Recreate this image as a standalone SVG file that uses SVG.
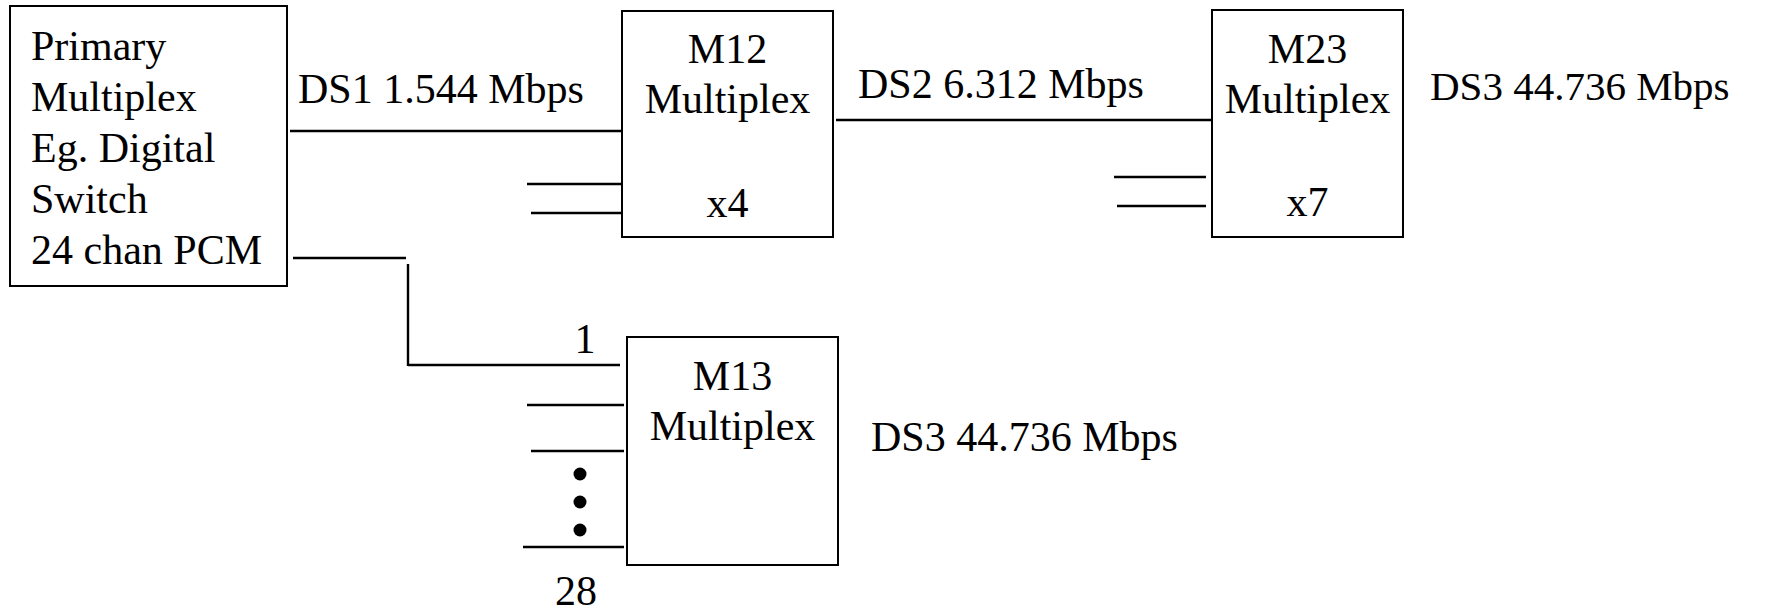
<svg xmlns="http://www.w3.org/2000/svg" width="1765" height="613" viewBox="0 0 1765 613">
<style>
.box{fill:#fff;stroke:#000;stroke-width:2}
.ln{stroke:#000;stroke-width:2.4;fill:none}
text{font-family:"Liberation Serif","Times New Roman",serif;font-size:42px;fill:#000}
.c{text-anchor:middle}
</style>
<rect width="1765" height="613" fill="#fff"/>
<g id="connectors">
<line class="ln" x1="290" y1="131" x2="621" y2="131"/>
<line class="ln" x1="527" y1="184" x2="621" y2="184"/>
<line class="ln" x1="531" y1="213" x2="621" y2="213"/>
<line class="ln" x1="836" y1="120" x2="1211" y2="120"/>
<line class="ln" x1="1114" y1="177" x2="1206" y2="177"/>
<line class="ln" x1="1117" y1="206" x2="1206" y2="206"/>
<line class="ln" x1="293" y1="258" x2="406" y2="258"/>
<line class="ln" x1="408" y1="264" x2="408" y2="366"/>
<line class="ln" x1="408" y1="365" x2="620" y2="365"/>
<line class="ln" x1="527" y1="405" x2="624" y2="405"/>
<line class="ln" x1="531" y1="451" x2="624" y2="451"/>
<line class="ln" x1="523" y1="547" x2="624" y2="547"/>
<circle cx="580" cy="474" r="6.5"/>
<circle cx="580" cy="502" r="6.5"/>
<circle cx="580" cy="530" r="6.5"/>
<text class="c" x="585" y="353">1</text>
<text class="c" x="576" y="605">28</text>
<text x="298" y="103">DS1 1.544 Mbps</text>
<text x="858" y="98">DS2 6.312 Mbps</text>
<text x="1430" y="100" style="font-size:41px">DS3 44.736 Mbps</text>
<text x="871" y="451">DS3 44.736 Mbps</text>
</g>
<g id="primary">
<rect class="box" x="10" y="6" width="277" height="280"/>
<text x="31" y="60">Primary</text>
<text x="31" y="111">Multiplex</text>
<text x="31" y="162">Eg. Digital</text>
<text x="31" y="213">Switch</text>
<text x="31" y="264">24 chan PCM</text>
</g>
<g id="m12">
<rect class="box" x="622" y="11" width="211" height="226"/>
<text class="c" x="727.5" y="63">M12</text>
<text class="c" x="727.5" y="113">Multiplex</text>
<text class="c" x="727.5" y="217">x4</text>
</g>
<g id="m23">
<rect class="box" x="1212" y="10" width="191" height="227"/>
<text class="c" x="1307.5" y="63">M23</text>
<text class="c" x="1307.5" y="113">Multiplex</text>
<text class="c" x="1307.5" y="216">x7</text>
</g>
<g id="m13">
<rect class="box" x="627" y="337" width="211" height="228"/>
<text class="c" x="732.5" y="390">M13</text>
<text class="c" x="732.5" y="440">Multiplex</text>
</g>
</svg>
